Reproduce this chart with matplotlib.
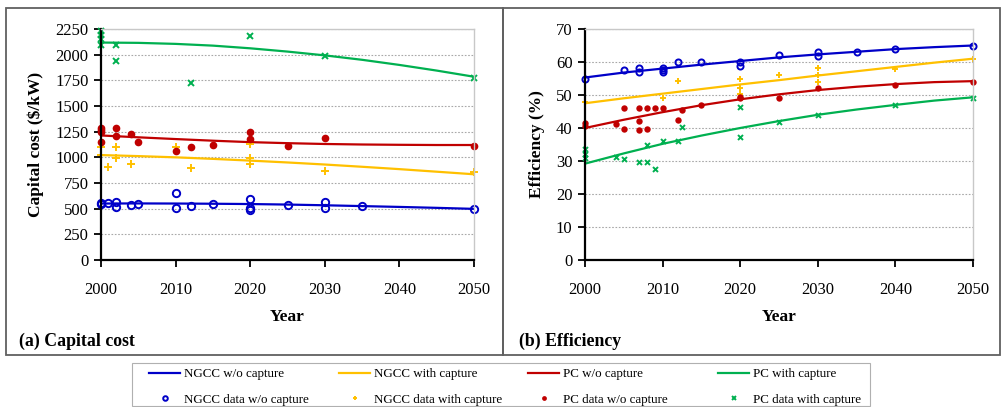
import matplotlib
matplotlib.use("Agg")
import matplotlib.pyplot as plt
from matplotlib.patches import Rectangle
from matplotlib.lines import Line2D

plt.rcParams['font.family'] = ['Liberation Serif', 'DejaVu Serif']

# ---- colours ----
C_NGCC = '#0000C8'
C_NGCC_CCS = '#FFC000'
C_PC = '#C00000'
C_PC_CCS = '#00B050'

# ---- trend curves (every 5 years) ----
trend_years = [2000, 2005, 2010, 2015, 2020, 2025, 2030, 2035, 2040, 2045, 2050]

cost_ngcc = [550, 551, 550, 548, 545, 540, 533, 525, 517, 508, 498]
cost_ngcc_ccs = [1022, 1012, 1000, 985, 968, 950, 930, 908, 885, 860, 835]
cost_pc = [1213, 1195, 1178, 1162, 1148, 1138, 1130, 1125, 1122, 1120, 1120]
cost_pc_ccs = [2118, 2115, 2105, 2088, 2062, 2030, 1993, 1950, 1900, 1845, 1785]

eff_ngcc = [55.3, 56.8, 58.0, 59.2, 60.3, 61.4, 62.3, 63.1, 63.9, 64.5, 65.0]
eff_ngcc_ccs = [47.5, 49.0, 50.4, 51.8, 53.2, 54.5, 55.9, 57.2, 58.5, 59.8, 61.0]
eff_pc = [40.0, 42.5, 44.8, 46.9, 48.7, 50.2, 51.5, 52.5, 53.3, 53.9, 54.2]
eff_pc_ccs = [29.2, 32.3, 35.2, 37.7, 40.0, 42.1, 44.0, 45.6, 47.0, 48.3, 49.3]

# ---- literature data points: capital cost ($/kW) ----
cost_ngcc_yr = [2000, 2000, 2001, 2002, 2002, 2004, 2005, 2010, 2010, 2012, 2015,
                2020, 2020, 2020, 2025, 2030, 2030, 2035, 2050]
cost_ngcc_val = [545, 555, 555, 568, 516, 536, 545, 656, 506, 523, 549,
                 597, 503, 490, 536, 562, 506, 526, 497]

cost_ngcc_ccs_yr = [2000, 2000, 2001, 2002, 2002, 2004, 2010, 2012, 2020, 2020, 2020, 2030, 2050]
cost_ngcc_ccs_val = [1104, 1019, 909, 1100, 997, 938, 1100, 893, 1127, 997, 932, 864, 854]

cost_pc_yr = [2000, 2000, 2000, 2000, 2002, 2002, 2004, 2005, 2010, 2012, 2015,
              2020, 2020, 2025, 2030, 2050]
cost_pc_val = [1289, 1265, 1244, 1153, 1289, 1205, 1224, 1146, 1058, 1097, 1120,
               1247, 1182, 1114, 1185, 1114]

cost_pc_ccs_yr = [2000, 2000, 2000, 2000, 2002, 2002, 2012, 2020, 2030, 2050]
cost_pc_ccs_val = [2235, 2195, 2150, 2095, 2095, 1940, 1720, 2180, 1990, 1770]

# ---- literature data points: efficiency (%) ----
eff_ngcc_yr = [2000, 2005, 2007, 2007, 2010, 2010, 2010, 2012, 2015, 2020, 2020,
               2025, 2030, 2030, 2035, 2040, 2050]
eff_ngcc_val = [55.0, 57.6, 58.2, 57.1, 58.2, 57.6, 56.9, 60.1, 60.1, 60.1, 58.9,
                62.1, 63.1, 61.9, 63.0, 64.0, 65.0]

eff_ngcc_ccs_yr = [2000, 2010, 2012, 2020, 2020, 2020, 2025, 2030, 2030, 2030, 2040, 2050]
eff_ngcc_ccs_val = [48.0, 49.0, 54.1, 55.0, 52.0, 50.3, 56.0, 58.3, 56.0, 54.0, 58.0, 61.0]

eff_pc_yr = [2000, 2000, 2004, 2005, 2005, 2007, 2007, 2007, 2008, 2008, 2009, 2010,
             2012, 2012.5, 2015, 2020, 2020, 2025, 2030, 2040, 2050]
eff_pc_val = [41.4, 40.7, 41.1, 46.0, 39.8, 46.0, 42.1, 39.4, 46.0, 39.6, 46.0, 46.0,
              42.4, 45.6, 47.0, 49.5, 49.0, 49.0, 52.0, 53.0, 54.0]

eff_pc_ccs_yr = [2000, 2000, 2000, 2004, 2005, 2007, 2008, 2008, 2009, 2010, 2012,
                 2012.5, 2020, 2020, 2025, 2030, 2040, 2050]
eff_pc_ccs_val = [33.6, 32.0, 31.0, 31.3, 30.6, 29.8, 34.8, 29.8, 27.7, 36.0, 36.0,
                  40.3, 46.5, 37.4, 41.9, 43.9, 47.0, 49.0]

year_ticks = [2000, 2010, 2020, 2030, 2040, 2050]

W, H = 1005, 407
fig = plt.figure(figsize=(W / 100, H / 100), dpi=100)


def px_axes(x0, y0, x1, y1):
    return fig.add_axes([x0 / W, 1 - y1 / H, (x1 - x0) / W, (y1 - y0) / H])


ax1 = px_axes(101, 29, 474, 260)
ax2 = px_axes(585, 29, 973, 260)


def marker_styles(scale):
    return (
        dict(marker='o', ls='none', mfc='none', mec=C_NGCC, ms=4.4 * scale, mew=1.4),
        dict(marker='+', ls='none', color=C_NGCC_CCS, ms=4.6 * scale, mew=1.4),
        dict(marker='o', ls='none', color=C_PC, ms=4.6 * scale, mew=0),
        dict(marker='x', ls='none', color=C_PC_CCS, ms=3.6 * scale, mew=1.4),
    )


def style_axes(ax, ymax, ystep, ylabel, ylab_x):
    ax.set_xlim(2000, 2050)
    ax.set_ylim(0, ymax)
    ax.set_xticks(year_ticks)
    ax.set_yticks(range(0, ymax + 1, ystep))
    ax.yaxis.grid(True, ls=(0, (1.5, 1.5)), color='#A8A8A8', lw=0.8)
    ax.set_axisbelow(True)
    for s in ('top', 'right'):
        ax.spines[s].set_color('#C8C8C8')
        ax.spines[s].set_linewidth(1.0)
    for s in ('left', 'bottom'):
        ax.spines[s].set_color('black')
        ax.spines[s].set_linewidth(1.6)
    ax.tick_params(axis='both', direction='out', length=5, width=1.3,
                   labelsize=12, colors='black', pad=4)
    ax.tick_params(axis='x', pad=11)
    ax.set_ylabel(ylabel, fontsize=12.5, fontweight='bold')
    ax.yaxis.set_label_coords(ylab_x, 0.5)
    ax.set_xlabel('Year', fontsize=12.5, fontweight='bold')
    ax.xaxis.set_label_coords(0.5, -0.21)


# Capital cost panel
m1, m2, m3, m4 = marker_styles(1.2)
ax1.plot(trend_years, cost_ngcc, color=C_NGCC, lw=1.6)
ax1.plot(trend_years, cost_ngcc_ccs, color=C_NGCC_CCS, lw=1.6)
ax1.plot(trend_years, cost_pc, color=C_PC, lw=1.6)
ax1.plot(trend_years, cost_pc_ccs, color=C_PC_CCS, lw=1.6)
ax1.plot(cost_ngcc_yr, cost_ngcc_val, clip_on=False, **m1)
ax1.plot(cost_ngcc_ccs_yr, cost_ngcc_ccs_val, clip_on=False, **m2)
ax1.plot(cost_pc_yr, cost_pc_val, clip_on=False, **m3)
ax1.plot(cost_pc_ccs_yr, cost_pc_ccs_val, clip_on=False, **m4)
style_axes(ax1, 2250, 250, 'Capital cost ($/kW)', -0.153)

# Efficiency panel
m1, m2, m3, m4 = marker_styles(1.0)
ax2.plot(trend_years, eff_ngcc, color=C_NGCC, lw=1.6)
ax2.plot(trend_years, eff_ngcc_ccs, color=C_NGCC_CCS, lw=1.6)
ax2.plot(trend_years, eff_pc, color=C_PC, lw=1.6)
ax2.plot(trend_years, eff_pc_ccs, color=C_PC_CCS, lw=1.6)
ax2.plot(eff_ngcc_yr, eff_ngcc_val, clip_on=False, **m1)
ax2.plot(eff_ngcc_ccs_yr, eff_ngcc_ccs_val, clip_on=False, **m2)
ax2.plot(eff_pc_yr, eff_pc_val, clip_on=False, **m3)
ax2.plot(eff_pc_ccs_yr, eff_pc_ccs_val, clip_on=False, **m4)
style_axes(ax2, 70, 10, 'Efficiency (%)', -0.102)

# Panel captions
fig.text(19 / W, 1 - 341 / H, '(a) Capital cost', fontsize=12.8, fontweight='bold',
         va='center', ha='left')
fig.text(519 / W, 1 - 341 / H, '(b) Efficiency', fontsize=12.8, fontweight='bold',
         va='center', ha='left')

# Panel frames
for x0, x1 in ((6, 503), (503, 1000)):
    fig.patches.append(Rectangle((x0 / W, 1 - 355 / H), (x1 - x0) / W, (355 - 8) / H,
                                 transform=fig.transFigure, fill=False,
                                 edgecolor='#606060', lw=1.3))

# Legend frame and entries
fig.patches.append(Rectangle((132 / W, 1 - 406 / H), 738 / W, 43 / H,
                             transform=fig.transFigure, fill=False,
                             edgecolor='#B0B0B0', lw=0.8))

l1, l2, l3, l4 = marker_styles(0.75)
legend_cols = [
    (149, 'NGCC w/o capture', C_NGCC, 'NGCC data w/o capture', l1),
    (339, 'NGCC with capture', C_NGCC_CCS, 'NGCC data with capture', l2),
    (528, 'PC w/o capture', C_PC, 'PC data w/o capture', l3),
    (718, 'PC with capture', C_PC_CCS, 'PC data with capture', l4),
]
for x0, line_lbl, col, data_lbl, mk in legend_cols:
    h_line = Line2D([], [], color=col, lw=1.6)
    h_mk = Line2D([], [], **mk)
    fig.legend([h_line, h_mk], [line_lbl, data_lbl],
               loc='upper left', bbox_to_anchor=(x0 / W, 1 - 368 / H),
               frameon=False, fontsize=9.4, handlelength=2.4,
               handletextpad=0.25, labelspacing=1.05,
               borderpad=0, borderaxespad=0)

fig.savefig('out.png', dpi=100)
